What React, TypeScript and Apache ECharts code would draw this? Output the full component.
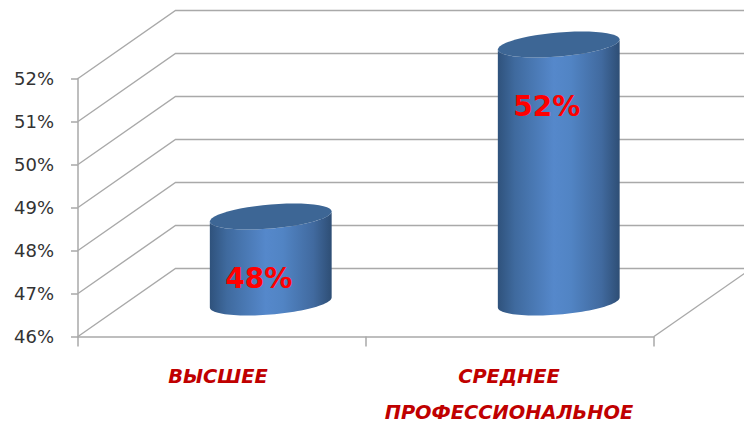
import React, { useEffect, useRef } from "react";
import * as echarts from "echarts";

const categories = ["ВЫСШЕЕ", "СРЕДНЕЕ\nПРОФЕССИОНАЛЬНОЕ"];
const shares = [48, 52];
const wallTicks = [46, 47, 48, 49, 50, 51, 52];
const axisMin = 46;
const axisMax = 52;

const GRAY = "#a9a9a9";
const DEPTH_X = 97.5;
const DEPTH_Y = -68;

function tiltedArc(cx: number, cy: number, rx: number, from: number, to: number) {
  const pts: number[][] = [];
  const steps = 48;
  for (let i = 0; i <= steps; i++) {
    const t = from + ((to - from) * i) / steps;
    pts.push([cx + rx * Math.cos(t), cy - 5 * Math.cos(t) + 12 * Math.sin(t)]);
  }
  return pts;
}

export default function App() {
  const ref = useRef<HTMLDivElement>(null);
  useEffect(() => {
    const chart = echarts.init(ref.current!, null, { renderer: "svg" });
    const bodyFill = new echarts.graphic.LinearGradient(0, 0, 1, 0, [
      { offset: 0, color: "#2f527c" },
      { offset: 0.14, color: "#3f6a9e" },
      { offset: 0.46, color: "#5588cb" },
      { offset: 0.6, color: "#5184c4" },
      { offset: 0.85, color: "#416a9f" },
      { offset: 1, color: "#2e4e75" },
    ]);
    chart.setOption({
      animation: false,
      backgroundColor: "#ffffff",
      grid: { left: 78, right: 90, top: 78.5, bottom: 89.5, containLabel: false, outerBoundsMode: "none" },
      xAxis: {
        type: "category",
        data: categories.map((c, i) =>
          i === 0 ? { value: c, textStyle: { padding: [0, 8, 0, 0] } } : { value: c, textStyle: { padding: [0, 2, 0, 0] } }
        ),
        boundaryGap: true,
        axisLine: { lineStyle: { color: GRAY, width: 1.5 } },
        axisTick: { show: true, interval: 0, length: 10, lineStyle: { color: GRAY, width: 1.5 } },
        axisLabel: {
          interval: 0,
          hideOverlap: false,
          margin: 22,
          color: "#c00000",
          fontFamily: "DejaVu Sans",
          fontStyle: "italic",
          fontWeight: "bold",
          fontSize: 19.4,
          lineHeight: 36,
          verticalAlign: "top",
        },
      },
      yAxis: {
        type: "value",
        min: axisMin,
        max: axisMax,
        interval: 1,
        axisLine: { show: true, lineStyle: { color: GRAY, width: 1.5 } },
        axisTick: { show: true, length: 7, lineStyle: { color: GRAY, width: 1.5 } },
        splitLine: { show: false },
        axisLabel: {
          formatter: "{value}%",
          margin: 24,
          color: "#333333",
          fontFamily: "DejaVu Sans",
          fontSize: 18,
        },
      },
      series: [
        {
          type: "custom",
          name: "walls",
          silent: true,
          z: 1,
          data: wallTicks.map((v) => [0, v]),
          encode: { x: 0, y: 1 },
          renderItem: (params: any, api: any) => {
            const v = api.value(1);
            const y = api.coord([0, v])[1];
            const sys = params.coordSys;
            const left = sys.x;
            const right = sys.x + sys.width;
            const children: any[] = [
              {
                type: "polyline",
                shape: {
                  points: [
                    [left, y],
                    [left + DEPTH_X, y + DEPTH_Y],
                    [right + DEPTH_X, y + DEPTH_Y],
                  ],
                },
                style: { stroke: GRAY, lineWidth: 1.4, fill: "none" },
              },
            ];
            if (v === axisMin) {
              children.push({
                type: "line",
                shape: { x1: right, y1: y, x2: right + DEPTH_X, y2: y + DEPTH_Y },
                style: { stroke: GRAY, lineWidth: 1.4 },
              });
            }
            return { type: "group", children };
          },
        },
        {
          type: "custom",
          name: "cylinders",
          silent: true,
          z: 3,
          data: shares.map((v, i) => [i, v]),
          encode: { x: 0, y: 1 },
          renderItem: (_params: any, api: any) => {
            const i = api.value(0);
            const v = api.value(1);
            const top = api.coord([i, v]);
            const base = api.coord([i, axisMin]);
            const rx = api.size([1, 0])[0] * 0.2115;
            const cx = top[0] + DEPTH_X / 2;
            const topY = top[1] + DEPTH_Y / 2;
            const baseY = base[1] + DEPTH_Y / 2;
            const body = [
              ...tiltedArc(cx, baseY, rx, 0, Math.PI),
              ...tiltedArc(cx, topY, rx, Math.PI, 0),
            ];
            return {
              type: "group",
              children: [
                {
                  type: "polygon",
                  shape: { points: body },
                  style: { fill: bodyFill },
                },
                {
                  type: "polygon",
                  shape: { points: tiltedArc(cx, topY, rx, 0, Math.PI * 2) },
                  style: { fill: "#3d6695" },
                },
                {
                  type: "text",
                  style: {
                    text: v + "%",
                    x: cx - 12,
                    y: topY + 62,
                    align: "center",
                    verticalAlign: "middle",
                    fill: "#ff0000",
                    fontFamily: "DejaVu Sans",
                    fontWeight: "bold",
                    fontSize: 28,
                  },
                },
              ],
            };
          },
        },
      ],
    });
    return () => chart.dispose();
  }, []);
  return (
    <div
      ref={ref}
      style={{ position: "fixed", left: 0, top: 0, width: 744, height: 426 }}
    />
  );
}
